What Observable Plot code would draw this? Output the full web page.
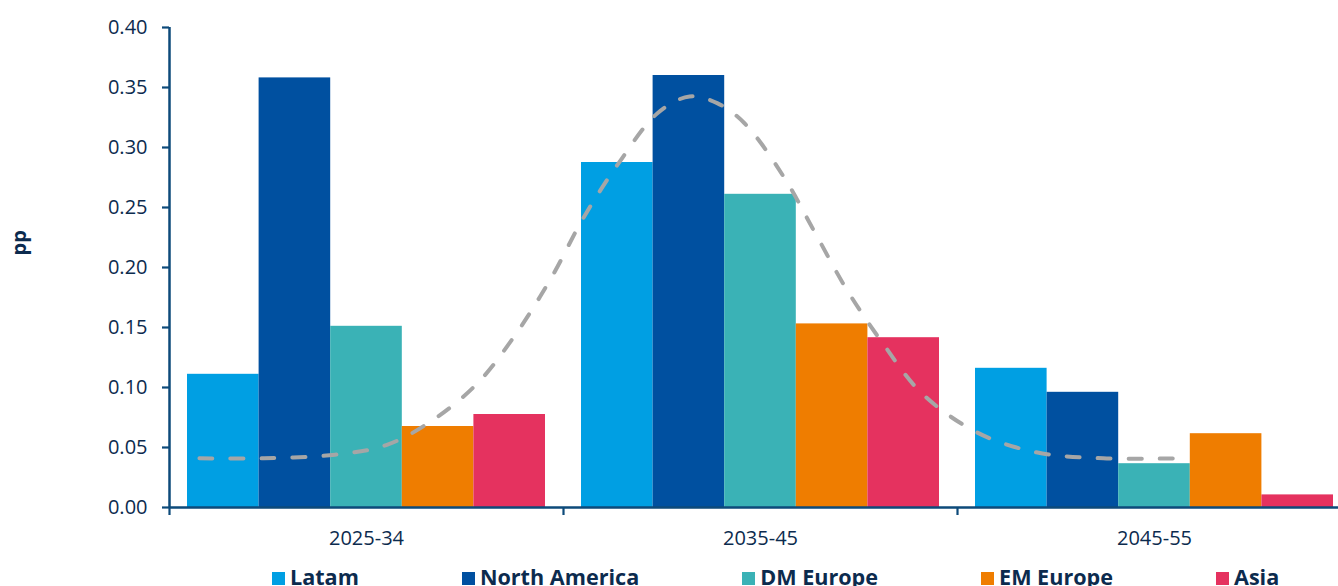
<!DOCTYPE html>
<html>
<head>
<meta charset="utf-8">
<script src="https://cdn.jsdelivr.net/npm/d3@7"></script>
<script src="https://cdn.jsdelivr.net/npm/@observablehq/plot@0.6"></script>
<style>
  html, body { margin: 0; padding: 0; background: #fff; overflow: hidden; }
  body { font-family: "Open Sans", "Noto Sans", sans-serif; color: #0c2b4e; width: 1338px; height: 586px; }
  #legend { display: flex; gap: 103px; padding-left: 272px; margin-top: 9px; font-weight: 700; font-size: 21.6px; line-height: 26px; color: #0c2b4e; white-space: nowrap; }
  #legend .item { display: flex; align-items: center; gap: 5px; }
  #legend .sw { width: 13px; height: 13px; display: inline-block; margin-top: 3px; }
</style>
</head>
<body>
<div id="chart"></div>
<div id="legend"></div>
<script>
// ---- data ----
const periods = ["2025-34", "2035-45", "2045-55"];
const regions = ["Latam", "North America", "DM Europe", "EM Europe", "Asia"];
const latam        = [0.111, 0.2875, 0.116];
const northAmerica = [0.358, 0.360, 0.096];
const dmEurope     = [0.151, 0.261, 0.0365];
const emEurope     = [0.0675, 0.153, 0.0615];
const asia         = [0.0775, 0.1415, 0.0105];
const colors = ["#009fe3", "#0050a0", "#3ab2b6", "#ef7d00", "#e5325f"];
const yTicks = [0, 0.05, 0.10, 0.15, 0.20, 0.25, 0.30, 0.35, 0.40];
// dashed smooth curve (position along the period axis, value)
const curvePos = [0.076, 0.24, 0.42, 0.55, 0.66, 0.78, 0.88, 0.97, 1.05, 1.14, 1.24, 1.32, 1.39, 1.46, 1.56, 1.64, 1.72, 1.81, 1.91, 2.05, 2.20, 2.37, 2.56];
const curveVal = [0.041, 0.041, 0.044, 0.052, 0.071, 0.103, 0.145, 0.192, 0.241, 0.287, 0.329, 0.3425, 0.337, 0.320, 0.275, 0.228, 0.181, 0.137, 0.095, 0.0625, 0.046, 0.041, 0.041];

// ---- build tables ----
const series = [latam, northAmerica, dmEurope, emEurope, asia];
const pad = 0.0457;
const bw = (1 - 2 * pad) / regions.length;
const bars = [];
periods.forEach((p, g) => {
  regions.forEach((r, i) => {
    bars.push({period: p, region: r, value: series[i][g], x1: g + pad + i * bw, x2: g + pad + (i + 1) * bw});
  });
});
const curve = curvePos.map((x, i) => ({x, y: curveVal[i]}));

const axisColor = "#0d4a7a";
const textColor = "#0c2b4e";

const chart = Plot.plot({
  width: 1338,
  height: 555,
  marginTop: 27,
  marginBottom: 48,
  marginLeft: 169,
  marginRight: 0,
  style: {fontFamily: "'Open Sans', 'Noto Sans', sans-serif", fontSize: "20px", color: textColor, background: "#fff"},
  x: {type: "linear", domain: [0, 2.967], axis: null},
  y: {domain: [0, 0.40], axis: null},
  color: {domain: regions, range: colors},
  marks: [
    Plot.rectY(bars, {x1: "x1", x2: "x2", y: "value", fill: "region"}),
    Plot.line(curve, {x: "x", y: "y", curve: "catmull-rom", stroke: "#a6a6a6", strokeWidth: 4, strokeDasharray: "13,18", strokeLinecap: "round"}),
    Plot.axisY({ticks: yTicks, tickFormat: d3.format(".2f"), tickSize: 7, tickPadding: 15, stroke: axisColor, strokeWidth: 2.2, fill: textColor, fontSize: 20, label: null}),
    Plot.axisX({ticks: [0, 1, 2, 3], tickFormat: () => "", tickSize: 8, stroke: axisColor, strokeWidth: 2.2, label: null}),
    Plot.axisX({ticks: [0.5, 1.5, 2.5], tickFormat: (d) => periods[Math.floor(d)], tickSize: 0, tickPadding: 23, fill: textColor, fontSize: 20, label: null}),
    Plot.ruleX([0], {stroke: axisColor, strokeWidth: 2.5}),
    Plot.ruleY([0], {stroke: axisColor, strokeWidth: 2.5}),
    Plot.text(["pp"], {frameAnchor: "left", dx: -150, dy: -12, rotate: -90, fontWeight: "bold", fontSize: 20, fill: textColor})
  ]
});
document.getElementById("chart").appendChild(chart);

const legend = document.getElementById("legend");
regions.forEach((r, i) => {
  const it = document.createElement("span");
  it.className = "item";
  const sw = document.createElement("span");
  sw.className = "sw";
  sw.style.background = colors[i];
  const t = document.createElement("span");
  t.textContent = r;
  it.appendChild(sw);
  it.appendChild(t);
  legend.appendChild(it);
});
</script>
</body>
</html>
